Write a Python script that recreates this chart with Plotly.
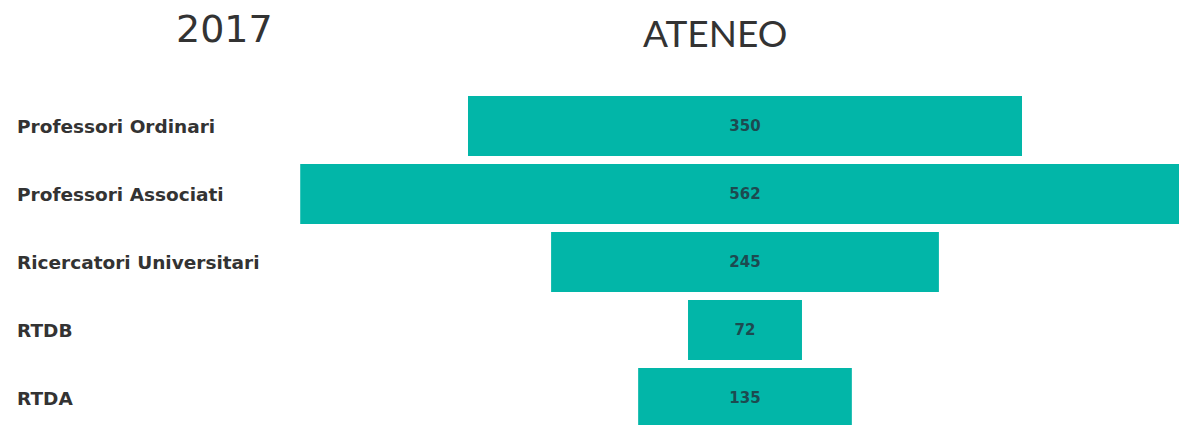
import plotly.graph_objects as go

categories = ["Professori Ordinari", "Professori Associati", "Ricercatori Universitari", "RTDB", "RTDA"]
values = [350, 562, 245, 72, 135]
year_label = "2017"
chart_title = "ATENEO"

W, H = 1179, 425
T, B = 92, 0
bar_color = "#02b6a8"
text_dark = "#333333"


def py(px_from_top):
    return (H - B - px_from_top) / (H - T - B)


fig = go.Figure()
fig.add_trace(go.Funnel(
    y=categories,
    x=values,
    orientation="h",
    marker=dict(color=bar_color, line=dict(width=0)),
    connector=dict(visible=False),
    textinfo="value",
    textposition="inside",
    insidetextanchor="middle",
    textfont=dict(family="DejaVu Sans", size=15, color="#1d4a50", weight="bold"),
    constraintext="none",
    hoverinfo="y+x",
))

# labels on the left
for c in categories:
    fig.add_annotation(
        x=15 / W, xref="paper", xanchor="left",
        y=c, yref="y", yanchor="middle",
        text=c, showarrow=False,
        font=dict(family="DejaVu Sans", size=18.5, color=text_dark, weight="bold"),
    )

fig.add_annotation(
    x=224 / W, xref="paper", xanchor="center",
    y=py(29), yref="paper", yanchor="middle",
    text=year_label, showarrow=False,
    font=dict(family="DejaVu Sans", size=38, color=text_dark),
)
fig.add_annotation(
    x=715 / W, xref="paper", xanchor="center",
    y=py(32), yref="paper", yanchor="middle",
    text=chart_title, showarrow=False,
    font=dict(family="Lato", size=37, color=text_dark),
)

px_per_unit = 554 / 350.0
center_px = 745
fig.update_layout(
    width=W, height=H,
    margin=dict(l=0, r=0, t=T, b=B),
    paper_bgcolor="white",
    plot_bgcolor="white",
    showlegend=False,
    funnelgap=8 / 68,
    xaxis=dict(
        range=[-center_px / px_per_unit, (W - center_px) / px_per_unit],
        visible=False, fixedrange=True,
    ),
    yaxis=dict(
        type="category",
        categoryorder="array", categoryarray=categories,
        range=[-0.5 + (H - T) / 68.0, -0.5],
        showticklabels=False, showgrid=False, zeroline=False,
        fixedrange=True,
    ),
)

fig.write_html(
    "out.html",
    config={"displayModeBar": False},
    post_script="document.body.style.margin='0';",
)
